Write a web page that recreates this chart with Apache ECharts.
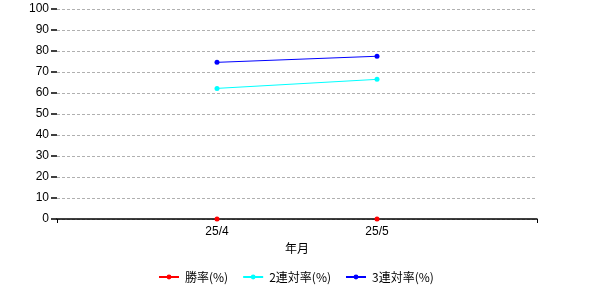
<!DOCTYPE html>
<html><head><meta charset="utf-8">
<script src="https://cdn.jsdelivr.net/npm/echarts@6/dist/echarts.min.js"></script>
<style>html,body{margin:0;padding:0;background:#fff}#c{width:600px;height:300px}</style>
</head><body><div id="c"></div>
<script>
const categories = ['', '25/4', '25/5', ''];
const winRate = [null, 0, 0, null];
const place2Rate = [null, 62.2, 66.5, null];
const place3Rate = [null, 74.6, 77.5, null];
const yTicks = [0, 10, 20, 30, 40, 50, 60, 70, 80, 90, 100];
const seriesNames = ['勝率(%)', '2連対率(%)', '3連対率(%)'];
const colors = ['#ff0000', '#00ffff', '#0000ff'];

const font = 'Liberation Sans, Arial, sans-serif';
const chart = echarts.init(document.getElementById('c'));
const mk = (name, data, color, z, hideLine) => ({
  name, type: 'line', data, z,
  symbol: 'circle', symbolSize: 5, showSymbol: true,
  lineStyle: { color, width: 1, opacity: hideLine ? 0 : 1 }, itemStyle: { color },
  connectNulls: false, animation: false
});
chart.setOption({
  animation: false,
  grid: { left: 57, right: 63, top: 9, bottom: 81, containLabel: false },
  legend: {
    bottom: 12, left: 153, itemGap: 14, itemWidth: 20, itemHeight: 6,
    textStyle: { fontFamily: 'Noto Sans CJK JP', fontSize: 12, color: '#000', padding: [0, 0, 0, 1] },
    data: seriesNames.map((n, i) => ({ name: n, lineStyle: { color: colors[i], width: 2, opacity: 1 } }))
  },
  xAxis: {
    type: 'category', data: categories, boundaryGap: false,
    name: '年月', nameLocation: 'middle', nameGap: 23,
    nameTextStyle: { fontFamily: 'Noto Sans CJK JP', fontSize: 12, color: '#000' },
    axisLine: { lineStyle: { color: '#000', width: 1.5 } },
    axisTick: { show: true, length: 4, lineStyle: { color: '#000' },
      interval: (i) => i === 0 || i === categories.length - 1 },
    axisLabel: { fontFamily: font, fontSize: 12, color: '#000', margin: 7, interval: 0 },
    splitLine: { show: false }
  },
  yAxis: {
    type: 'value', min: yTicks[0], max: yTicks[yTicks.length - 1], interval: 10,
    axisLine: { show: false },
    axisTick: { show: true, length: 6, lineStyle: { color: '#000', width: 1.5 } },
    axisLabel: { fontFamily: font, fontSize: 12, color: '#000', margin: 8 },
    splitLine: { show: true, lineStyle: { color: '#b0b0b0', type: [3, 2], width: 1 } }
  },
  series: [
    mk(seriesNames[0], winRate, colors[0], 3, true),
    mk(seriesNames[1], place2Rate, colors[1], 2, false),
    mk(seriesNames[2], place3Rate, colors[2], 2, false)
  ]
});
</script></body></html>
